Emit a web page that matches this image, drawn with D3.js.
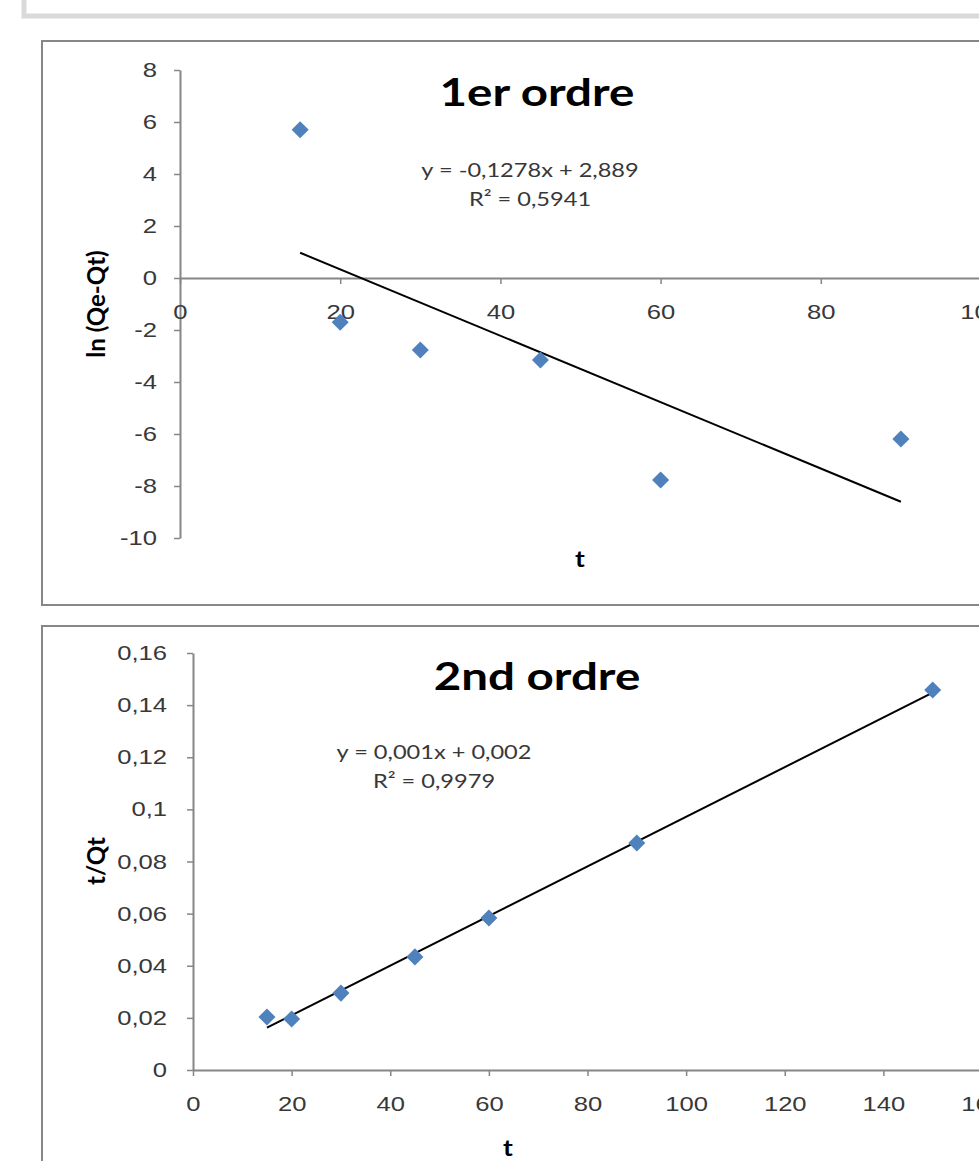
<!DOCTYPE html>
<html>
<head>
<meta charset="utf-8">
<script src="https://cdn.jsdelivr.net/npm/d3@7"></script>
<style>
  body { margin: 0; background: #fff; }
  svg { display: block; font-family: Lato, "Open Sans", sans-serif; }
</style>
</head>
<body>
<div id="chart"></div>
<script>
// ---- data ----
var t1 = [15, 20, 30, 45, 60, 90];
var lnQ = [5.7, -1.7, -2.77, -3.15, -7.77, -6.19];
var t2 = [15, 20, 30, 45, 60, 90, 150];
var tQt = [0.0203, 0.0196, 0.0295, 0.0434, 0.0583, 0.0871, 0.1458];

var y1Ticks = [8, 6, 4, 2, 0, -2, -4, -6, -8, -10];
var x1Ticks = [0, 20, 40, 60, 80, 100];
var y2Ticks = [0, 0.02, 0.04, 0.06, 0.08, 0.1, 0.12, 0.14, 0.16];
var y2Labels = ["0", "0,02", "0,04", "0,06", "0,08", "0,1", "0,12", "0,14", "0,16"];
var x2Ticks = [0, 20, 40, 60, 80, 100, 120, 140, 160];

var titles = ["1er ordre", "2nd ordre"];
var eq1 = ["y = -0,1278x + 2,889", "R² = 0,5941"];
var eq2 = ["y = 0,001x + 0,002", "R² = 0,9979"];

const W = 979, H = 1161;
const SX = 1.25; // the picture is a bit wider than tall, stretch text horizontally
const svg = d3.select('#chart').append('svg').attr('width', W).attr('height', H);

// top grey frame piece
svg.append('rect').attr('x', 24).attr('y', -20).attr('width', 1000).attr('height', 36)
    .attr('fill', 'none').attr('stroke', '#d9d9d9').attr('stroke-width', 5);

// linear regression
function fit(xs, ys) {
    var mx = d3.mean(xs), my = d3.mean(ys);
    var sxy = d3.sum(xs, (x, i) => (x - mx) * (ys[i] - my));
    var sxx = d3.sum(xs, x => (x - mx) * (x - mx));
    var b = sxy / sxx;
    return { b: b, a: my - b * mx };
}

function drawChart(cfg) {
    var g = svg.append('g');
    // chart border
    g.append('rect').attr('x', 42).attr('y', cfg.boxTop).attr('width', 1000).attr('height', cfg.boxH)
        .attr('fill', '#fff').attr('stroke', '#878787').attr('stroke-width', 2);

    var x = d3.scaleLinear().domain(cfg.xDomain).range(cfg.xRange);
    var y = d3.scaleLinear().domain(cfg.yDomain).range(cfg.yRange);

    var yAxis = d3.axisLeft(y).tickValues(cfg.yTicks).tickSize(6)
        .tickSizeOuter(0).tickFormat(cfg.yFormat);
    var ya = g.append('g').attr('transform', 'translate(' + x(0) + ',0)').call(yAxis);

    var xAxis = d3.axisBottom(x).tickValues(cfg.xTicks).tickSize(6).tickPadding(20)
        .tickSizeOuter(0).tickFormat(d => d);
    var xa = g.append('g').attr('transform', 'translate(0,' + y(0) + ')').call(xAxis);

    [ya, xa].forEach(a => {
        a.select('.domain').attr('stroke', '#868686').attr('stroke-width', 2);
        a.selectAll('.tick line').attr('stroke', '#868686').attr('stroke-width', 1.5);
        a.selectAll('.tick text').attr('fill', '#383838').style('font-size', '20.5px')
            .attr('transform', 'scale(' + SX + ',1)');
    });
    ya.selectAll('.tick text').attr('x', -cfg.yGap / SX);

    // trend line
    var f = fit(cfg.xs, cfg.ys);
    var x0 = d3.min(cfg.xs), x1 = d3.max(cfg.xs);
    g.append('line')
        .attr('x1', x(x0)).attr('y1', y(f.a + f.b * x0))
        .attr('x2', x(x1)).attr('y2', y(f.a + f.b * x1))
        .attr('stroke', '#000').attr('stroke-width', 2);

    // markers
    g.selectAll('path.pt').data(cfg.xs).enter().append('path')
        .attr('class', 'pt')
        .attr('d', d3.symbol(d3.symbolSquare, 145))
        .attr('transform', (d, i) => 'translate(' + x(d) + ',' + y(cfg.ys[i]) + ') rotate(45)')
        .attr('fill', '#4f81bd');

    // title
    g.append('text').attr('transform', 'translate(537,' + cfg.titleY + ') scale(1.25,1)')
        .attr('text-anchor', 'middle')
        .style('font-size', '38px').style('font-weight', 'bold').attr('fill', '#000')
        .text(cfg.title);

    // equation
    g.selectAll('text.eq').data(cfg.eq).enter().append('text')
        .attr('class', 'eq')
        .attr('transform', (d, i) => 'translate(' + cfg.eqX + ',' + (cfg.eqY + i * 29) + ') scale(1.18,1)')
        .attr('text-anchor', 'middle').style('font-size', '20px').attr('fill', '#383838')
        .text(d => d);

    // axis titles
    g.append('text').attr('transform', 'translate(' + 105 + ',' + cfg.yLabelY + ') rotate(-90)')
        .attr('text-anchor', 'middle').style('font-size', '24px').style('font-weight', 'bold')
        .text(cfg.yLabel);
    g.append('text').attr('transform', 'translate(' + cfg.tX + ',' + cfg.tY + ') scale(1.15,1)')
        .attr('text-anchor', 'middle')
        .style('font-size', '23px').style('font-weight', 'bold').text('t');
}

drawChart({
    boxTop: 41, boxH: 564,
    xs: t1, ys: lnQ,
    xDomain: [0, 100], xRange: [180, 981],
    yDomain: [-10, 8], yRange: [538, 70],
    yTicks: y1Ticks, xTicks: x1Ticks, yGap: 23,
    yFormat: d => d,
    title: titles[0], titleY: 106,
    eq: eq1, eqX: 530, eqY: 177,
    yLabel: 'ln (Qe-Qt)', yLabelY: 304,
    tX: 580, tY: 567
});

drawChart({
    boxTop: 626, boxH: 600,
    xs: t2, ys: tQt,
    xDomain: [0, 160], xRange: [193, 982],
    yDomain: [0, 0.16], yRange: [1070, 653],
    yTicks: y2Ticks, xTicks: x2Ticks, yGap: 26,
    yFormat: (d, i) => y2Labels[i],
    title: titles[1], titleY: 690,
    eq: eq2, eqX: 434, eqY: 759,
    yLabel: 't/Qt', yLabelY: 861,
    tX: 508, tY: 1156
});
</script>
</body>
</html>
